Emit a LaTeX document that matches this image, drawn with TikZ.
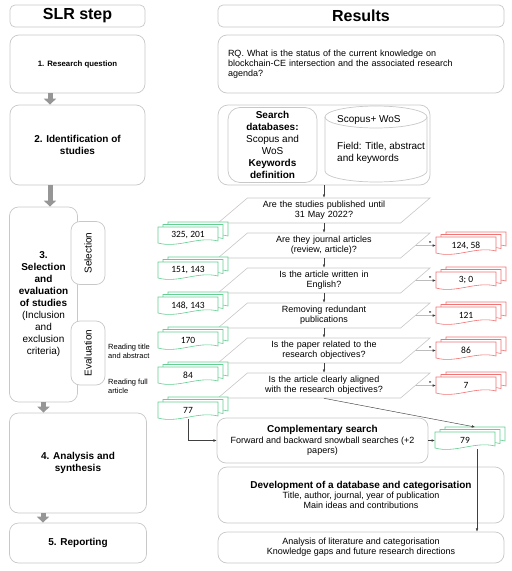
\documentclass[tikz,border=0pt]{standalone}
\usepackage{fontspec}
\setmainfont{Liberation Sans}
\newfontfamily\numfont{Carlito}
\usetikzlibrary{shapes.geometric, arrows.meta, positioning}

\definecolor{boxline}{RGB}{200,200,200}
\definecolor{passgreen}{RGB}{100,205,145}
\definecolor{dropred}{RGB}{240,115,115}
\definecolor{stepgray}{RGB}{150,150,150}

\newcommand{\txt}{\fontsize{9}{10.2}\selectfont}
\newcommand{\midtxt}{\fontsize{10}{12}\selectfont}
\newcommand{\headtxt}{\fontsize{16}{19}\selectfont\bfseries}
\newcommand{\tinytxt}{\fontsize{7.5}{9}\selectfont}

\tikzstyle{stepbox} = [draw=boxline, fill=white, rounded corners=9pt, line width=0.7pt, align=center, inner sep=2pt]
\tikzstyle{headbox} = [stepbox, rounded corners=5pt, minimum height=22pt, font=\headtxt]
\tikzstyle{question} = [trapezium, trapezium left angle=35, trapezium right angle=145, trapezium stretches body, draw=boxline, fill=white, line width=0.6pt, minimum height=25pt, minimum width=212pt, text width=140pt, align=center, inner sep=1pt, font=\txt]
\tikzstyle{stacklabel} = [minimum width=60pt, minimum height=17pt, inner sep=0pt, font=\numfont\fontsize{9.5}{11}\selectfont]
\tikzstyle{flow} = [-{Latex[length=3.2pt,width=2.6pt]}, line width=0.45pt, draw=black!75]
\tikzstyle{minus} = [pos=0.72, above=-0.5pt, inner sep=1pt, font=\bfseries\footnotesize]
\tikzstyle{stepflow} = [-{Triangle[width=12pt,length=6pt]}, line width=5pt, draw=stepgray]

% stack of three documents: name, centre, colour, text
\newcommand{\docstack}[4]{%
  \foreach \k in {2,1,0}{
    \filldraw[draw=#3, fill=white, line width=0.6pt, shift={(#2)}, shift={(5*\k,-2.5*\k)}]
      (-30,-8.5) -- (30,-8.5) -- (30,5.5) .. controls (10,0.5) and (-10,13) .. (-30,7.5) -- cycle;
  }
  \node[stacklabel] (#1) at (#2) {#4};
  \coordinate (#1-top) at ([shift={(10,-13.5)}]#2);
}

\begin{document}
\begin{tikzpicture}[x=1pt, y=-1pt]
    \useasboundingbox (0,0) rectangle (512,571);

    % headers
    \node[headbox, minimum width=135pt] (slr) at (77.5,16) {SLR step};
    \node[headbox, minimum width=286pt] (results) at (361,16) {Results};

    % SLR steps
    \node[stepbox, minimum width=135pt, minimum height=58pt, font=\fontsize{7.8}{9}\selectfont\bfseries] (rq) at (77.5,64) {1. Research question};
    \node[stepbox, minimum width=135pt, minimum height=80pt, font=\midtxt\bfseries] (ident) at (77.5,145) {2. Identification of\\studies};
    \node[stepbox, minimum width=68pt, minimum height=195pt, font=\midtxt] (selev) at (43.5,304.5)
        {\textbf{3.}\\\textbf{Selection}\\\textbf{and}\\\textbf{evaluation}\\\textbf{of studies}\\(Inclusion\\and\\exclusion\\criteria)};
    \node[stepbox, rotate=90, minimum width=63pt, minimum height=34pt, font=\midtxt] (sel) at (88,253) {Selection};
    \node[stepbox, rotate=90, minimum width=64pt, minimum height=34pt, font=\midtxt] (evl) at (88,353) {Evaluation};
    \node[font=\tinytxt, align=left, anchor=west, inner sep=0pt] (readta) at (108,351.5) {Reading title\\and abstract};
    \node[font=\tinytxt, align=left, anchor=west, inner sep=0pt] (readfa) at (108,386.5) {Reading full\\article};
    \node[stepbox, minimum width=137pt, minimum height=100pt, font=\midtxt\bfseries] (synth) at (78,463) {4. Analysis and\\synthesis};
    \node[stepbox, minimum width=137pt, minimum height=40pt, font=\midtxt\bfseries] (report) at (78,543) {5. Reporting};

    \draw[stepflow] ([xshift=-27.5pt]rq.south) -- ([xshift=-27.5pt]ident.north);
    \draw[stepflow] ([xshift=-27.5pt]ident.south) -- ([xshift=-27.5pt]ident.south |- selev.north);
    \draw[stepflow] (selev.south) -- (selev.south |- synth.north);
    \draw[stepflow] ([xshift=-35pt]synth.south) -- ([xshift=-35pt]report.north);

    % results
    \node[stepbox, minimum width=286pt, minimum height=58pt, text width=266pt, align=left, font=\txt] (question) at (361,64)
        {RQ. What is the status of the current knowledge on\\blockchain-CE intersection and the associated research\\agenda?};
    \node[stepbox, rounded corners=10pt, minimum width=212pt, minimum height=80pt] (search) at (324,145) {};
    \node[stepbox, rounded corners=12pt, minimum width=89pt, minimum height=75pt, font=\midtxt] (dbsearch) at (272.5,145)
        {\textbf{Search}\\\textbf{databases:}\\Scopus and\\WoS\\\textbf{Keywords}\\\textbf{definition}};
    % database cylinder
    \filldraw[draw=boxline, fill=white, line width=0.7pt] (325,117) -- (325,171)
        .. controls (325,177.1) and (348,182) .. (376,182)
        .. controls (404,182) and (427,177.1) .. (427,171) -- (427,117);
    \draw[boxline, line width=0.7pt] (376,117) ellipse [x radius=51, y radius=11];
    \node[font=\midtxt, anchor=west, inner sep=0pt] (dbname) at (337,120) {Scopus+ WoS};
    \node[font=\midtxt, align=left, anchor=west, inner sep=0pt] (dbfield) at (337,153) {Field: Title, abstract\\and keywords};

    % screening
    \node[question] (q1) at (324,210.5) {Are the studies published until\\31 May 2022?};
    \node[question] (q2) at (324,245.5) {Are they journal articles\\(review, article)?};
    \node[question] (q3) at (324,280.5) {Is the article written in\\English?};
    \node[question] (q4) at (324,315.5) {Removing redundant\\publications};
    \node[question] (q5) at (324,350.5) {Is the paper related to the\\research objectives?};
    \node[question] (q6) at (324,385.5) {Is the article clearly aligned\\with the research objectives?};

    \docstack{n1}{188,235.5}{passgreen}{325, 201}
    \docstack{n2}{188,270.5}{passgreen}{151, 143}
    \docstack{n3}{188,305.5}{passgreen}{148, 143}
    \docstack{n4}{188,340.5}{passgreen}{170}
    \docstack{n5}{188,375.5}{passgreen}{84}
    \docstack{n6}{188,410.5}{passgreen}{77}

    \docstack{d2}{466,245.5}{dropred}{124, 58}
    \docstack{d3}{466,280.5}{dropred}{3; 0}
    \docstack{d4}{466,315.5}{dropred}{121}
    \docstack{d5}{466,350.5}{dropred}{86}
    \docstack{d6}{466,385.5}{dropred}{7}

    \node[stepbox, minimum width=211pt, minimum height=45pt, font=\txt] (comp) at (322.5,440.5)
        {{\midtxt\bfseries Complementary search}\\Forward and backward snowball searches (+2\\papers)};
    \docstack{s79}{465,440.5}{passgreen}{79}
    \node[stepbox, minimum width=286pt, minimum height=56pt, font=\txt] (devdb) at (361,495)
        {{\midtxt\bfseries Development of a database and categorisation}\\Title, author, journal, year of publication\\Main ideas and contributions};
    \node[stepbox, minimum width=286pt, minimum height=31pt, font=\txt] (litreview) at (361,547.5)
        {Analysis of literature and categorisation\\Knowledge gaps and future research directions};

    % connectors
    \draw[flow] (search.south) -- (search.south |- q1.north);
    \draw[flow] (q1.center |- q1.south) -- (q1.center |- q2.north);
    \draw[flow] (q2.center |- q2.south) -- (q2.center |- q3.north);
    \draw[flow] (q3.center |- q3.south) -- (q3.center |- q4.north);
    \draw[flow] (q4.center |- q4.south) -- (q4.center |- q5.north);
    \draw[flow] (q5.center |- q5.south) -- (q5.center |- q6.north);
    \draw[flow] (q2.east) -- node[minus] {-} (d2.west);
    \draw[flow] (q3.east) -- node[minus] {-} (d3.west);
    \draw[flow] (q4.east) -- node[minus] {-} (d4.west);
    \draw[flow] (q5.east) -- node[minus] {-} (d5.west);
    \draw[flow] (q6.east) -- node[minus] {-} (d6.west);
    \draw[flow] (q6.center |- q6.south) -- (s79-top);
    \draw[flow] (n6.south) |- (comp.west);
    \draw[flow] (comp.east) -- (s79.west);
    \draw[flow] ([xshift=12pt]s79.south) -- ([xshift=12pt]s79.south |- litreview.north);
\end{tikzpicture}
\end{document}
